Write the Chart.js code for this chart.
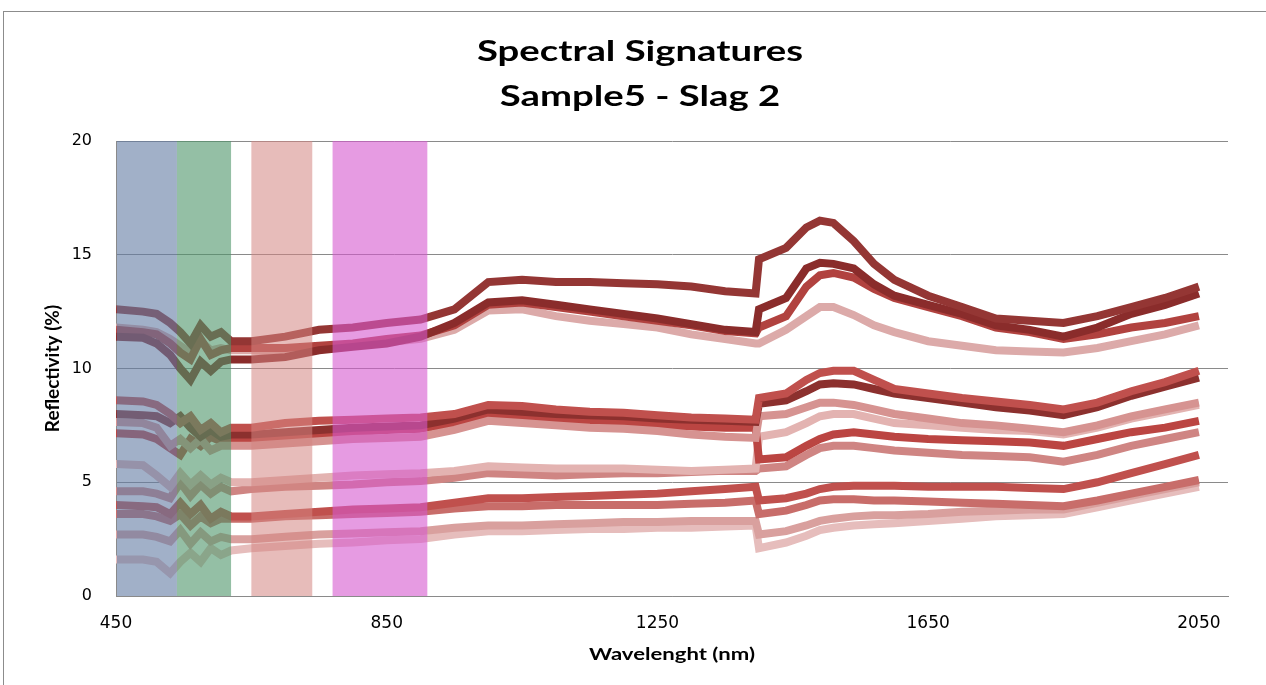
<!DOCTYPE html>
<html>
<head>
<meta charset="utf-8">
<title>Spectral Signatures</title>
<script src="https://cdn.jsdelivr.net/npm/chart.js@4.4.1/dist/chart.umd.min.js"></script>
<style>
  html, body { margin: 0; padding: 0; background: #fff; }
  #wrap { width: 1266px; height: 685px; }
</style>
</head>
<body>
<div id="wrap"><canvas id="chart" width="1266" height="685"></canvas></div>
<script>
// Spectral signatures of Sample5 - Slag 2 (reflectivity in %, wavelength in nm)

const titleLines = ['Spectral Signatures', 'Sample5 - Slag 2'];
const xTitle = 'Wavelenght (nm)';
const yTitle = 'Reflectivity (%)';

const wavelengths = [450, 490, 510, 530, 545, 560, 575, 590, 605, 620,
    650, 700, 750, 800, 850, 900, 950, 1000, 1050, 1100,
    1150, 1200, 1250, 1300, 1350, 1395, 1400, 1440, 1470, 1490,
    1510, 1540, 1570, 1600, 1650, 1700, 1750, 1800, 1850, 1900,
    1950, 2000, 2050];

const xTicks = [450, 850, 1250, 1650, 2050];
const yTicks = [0, 5, 10, 15, 20];

// visible colour bands (nm)
const bandStart = [450, 540, 650, 770];
const bandEnd = [540, 620, 740, 910];
const bandColors = ['rgba(98,124,163,0.6)', 'rgba(77,148,105,0.6)', 'rgba(212,133,130,0.55)', 'rgba(213,88,207,0.6)'];

const spot01 = [12.6, 12.5, 12.4, 12.0, 11.6, 11.1, 11.9, 11.4, 11.6, 11.2,
    11.2, 11.4, 11.7, 11.8, 12.0, 12.15, 12.6, 13.8, 13.9, 13.8,
    13.8, 13.75, 13.7, 13.6, 13.4, 13.3, 14.8, 15.3, 16.2, 16.5,
    16.4, 15.6, 14.6, 13.9, 13.2, 12.7, 12.2, 12.1, 12.0, 12.3,
    12.7, 13.1, 13.6];
const spot02 = [11.4, 11.35, 11.1, 10.6, 10.0, 9.5, 10.3, 9.9, 10.3, 10.4,
    10.4, 10.5, 10.8, 10.95, 11.1, 11.4, 12.0, 12.9, 13.0, 12.8,
    12.6, 12.4, 12.2, 11.95, 11.7, 11.6, 12.6, 13.1, 14.4, 14.65,
    14.6, 14.4, 13.7, 13.2, 12.8, 12.4, 11.9, 11.7, 11.4, 11.8,
    12.4, 12.8, 13.3];
const spot03 = [11.7, 11.6, 11.5, 11.1, 10.7, 10.4, 11.3, 10.6, 10.8, 10.9,
    10.9, 10.9, 11.0, 11.1, 11.3, 11.45, 11.9, 12.8, 12.9, 12.7,
    12.5, 12.3, 12.1, 11.9, 11.65, 11.55, 11.8, 12.3, 13.6, 14.1,
    14.2, 14.0, 13.5, 13.1, 12.7, 12.3, 11.8, 11.6, 11.3, 11.5,
    11.8, 12.0, 12.3];
const spot04 = [11.8, 11.7, 11.6, 11.3, 11.0, 10.7, 11.2, 10.8, 10.9, 10.8,
    10.8, 10.7, 10.9, 11.0, 11.15, 11.3, 11.7, 12.55, 12.6, 12.3,
    12.1, 11.95, 11.8, 11.5, 11.3, 11.1, 11.1, 11.7, 12.3, 12.7,
    12.7, 12.35, 11.9, 11.6, 11.2, 11.0, 10.8, 10.75, 10.7, 10.9,
    11.2, 11.5, 11.9];
const spot05 = [8.6, 8.55, 8.4, 8.0, 7.6, 7.9, 7.3, 7.6, 7.2, 7.4,
    7.4, 7.6, 7.7, 7.75, 7.8, 7.85, 8.0, 8.4, 8.35, 8.2,
    8.1, 8.05, 7.95, 7.85, 7.8, 7.75, 8.7, 8.9, 9.5, 9.8,
    9.9, 9.9, 9.5, 9.1, 8.9, 8.7, 8.55, 8.4, 8.2, 8.5,
    9.0, 9.4, 9.9];
const spot06 = [8.0, 7.95, 7.9, 7.6, 7.9, 7.4, 7.0, 7.3, 7.0, 7.1,
    7.1, 7.2, 7.3, 7.4, 7.45, 7.5, 7.8, 8.2, 8.1, 8.0,
    7.95, 7.9, 7.8, 7.75, 7.7, 7.65, 8.45, 8.6, 9.0, 9.3,
    9.35, 9.3, 9.1, 8.9, 8.7, 8.5, 8.3, 8.15, 7.95, 8.3,
    8.8, 9.2, 9.6];
const spot07 = [7.65, 7.6, 7.4, 6.6, 6.9, 6.5, 6.9, 6.4, 6.6, 6.6,
    6.6, 6.7, 6.8, 6.9, 6.95, 7.0, 7.3, 7.7, 7.6, 7.5,
    7.4, 7.35, 7.25, 7.1, 7.0, 6.95, 7.9, 8.0, 8.3, 8.5,
    8.5, 8.4, 8.2, 8.0, 7.8, 7.6, 7.5, 7.35, 7.2, 7.5,
    7.9, 8.2, 8.5];
const spot08 = [7.15, 7.1, 6.9, 6.5, 6.2, 6.9, 6.6, 7.0, 6.8, 6.9,
    6.9, 7.0, 7.1, 7.2, 7.3, 7.35, 7.6, 8.0, 7.9, 7.8,
    7.7, 7.6, 7.5, 7.45, 7.4, 7.4, 6.0, 6.1, 6.6, 6.9,
    7.1, 7.2, 7.1, 7.0, 6.9, 6.85, 6.8, 6.75, 6.6, 6.9,
    7.2, 7.4, 7.7];
const spot09 = [5.8, 5.75, 5.3, 4.8, 5.4, 4.9, 5.3, 4.9, 5.2, 5.0,
    5.0, 5.1, 5.2, 5.3, 5.35, 5.4, 5.5, 5.7, 5.65, 5.6,
    5.6, 5.6, 5.55, 5.5, 5.55, 5.6, 7.0, 7.2, 7.6, 7.9,
    8.0, 8.0, 7.8, 7.6, 7.5, 7.4, 7.3, 7.25, 7.1, 7.4,
    7.8, 8.1, 8.4];
const spot10 = [4.6, 4.6, 4.5, 4.3, 5.0, 4.4, 4.9, 4.5, 4.8, 4.6,
    4.7, 4.8, 4.85, 4.9, 5.0, 5.05, 5.2, 5.4, 5.35, 5.3,
    5.35, 5.4, 5.4, 5.45, 5.5, 5.5, 5.6, 5.7, 6.2, 6.5,
    6.6, 6.6, 6.5, 6.4, 6.3, 6.2, 6.15, 6.1, 5.9, 6.2,
    6.6, 6.9, 7.2];
const spot11 = [4.0, 3.95, 3.9, 3.6, 4.1, 3.6, 4.0, 3.4, 3.7, 3.5,
    3.5, 3.6, 3.7, 3.8, 3.85, 3.9, 4.1, 4.3, 4.3, 4.35,
    4.4, 4.45, 4.5, 4.6, 4.7, 4.8, 4.2, 4.3, 4.5, 4.7,
    4.8, 4.85, 4.85, 4.85, 4.8, 4.8, 4.8, 4.75, 4.7, 5.0,
    5.4, 5.8, 6.2];
const spot12 = [3.6, 3.6, 3.5, 3.3, 3.6, 3.1, 3.5, 3.2, 3.4, 3.4,
    3.4, 3.5, 3.55, 3.6, 3.65, 3.7, 3.85, 3.95, 3.95, 4.0,
    4.0, 4.0, 4.0, 4.05, 4.1, 4.2, 3.6, 3.75, 4.0, 4.2,
    4.25, 4.25, 4.2, 4.2, 4.15, 4.1, 4.05, 4.0, 3.95, 4.2,
    4.5, 4.8, 5.1];
const spot13 = [2.7, 2.7, 2.6, 2.4, 2.9, 2.3, 2.8, 2.4, 2.6, 2.5,
    2.5, 2.6, 2.7, 2.75, 2.8, 2.85, 3.0, 3.1, 3.1, 3.15,
    3.2, 3.25, 3.25, 3.3, 3.3, 3.3, 2.7, 2.85, 3.1, 3.3,
    3.4, 3.5, 3.55, 3.55, 3.6, 3.7, 3.75, 3.8, 3.8, 4.1,
    4.4, 4.7, 5.0];
const spot14 = [1.6, 1.6, 1.5, 1.0, 1.5, 1.9, 1.5, 2.1, 1.8, 2.0,
    2.1, 2.2, 2.3, 2.35, 2.45, 2.5, 2.7, 2.85, 2.85, 2.9,
    2.95, 2.95, 3.0, 3.0, 3.05, 3.1, 2.1, 2.35, 2.65, 2.9,
    3.0, 3.1, 3.15, 3.2, 3.3, 3.4, 3.5, 3.55, 3.6, 3.9,
    4.2, 4.5, 4.8];

const allSpots = [spot01, spot02, spot03, spot04, spot05, spot06, spot07,
    spot08, spot09, spot10, spot11, spot12, spot13, spot14];
const spotColors = ['#943634', '#8a2c2b', '#b1423f', '#dcaaa9', '#c0504d', '#8c302e', '#d69391',
    '#bb4542', '#e3b3b1', '#cf8583', '#c0504d', '#c86d6a', '#d9a09e', '#e6bdbc'];

const datasets = allSpots.map((values, i) => ({
    label: 'Spot ' + (i + 1),
    data: values.map((v, j) => ({ x: wavelengths[j], y: v })),
    borderColor: spotColors[i],
    backgroundColor: spotColors[i],
    borderWidth: 8,
    pointRadius: 0,
    tension: 0,
    fill: false
}));

// white page + grey chart frame
const framePlugin = {
    id: 'frame',
    beforeDraw(chart) {
        const ctx = chart.ctx;
        ctx.save();
        ctx.fillStyle = '#fff';
        ctx.fillRect(0, 0, chart.width, chart.height);
        ctx.strokeStyle = '#8c8c8c';
        ctx.lineWidth = 1;
        ctx.strokeRect(3.5, 11.5, chart.width + 20, chart.height + 20);
        ctx.restore();
    }
};

// translucent colour bands laid over the curves
const bandPlugin = {
    id: 'bands',
    afterDatasetsDraw(chart) {
        const ctx = chart.ctx;
        const xs = chart.scales.x, ys = chart.scales.y;
        const top = ys.getPixelForValue(20), bottom = ys.getPixelForValue(0);
        ctx.save();
        bandStart.forEach((s, i) => {
            const x1 = Math.max(xs.getPixelForValue(s), chart.chartArea.left + 1);
            const x2 = xs.getPixelForValue(bandEnd[i]);
            ctx.fillStyle = bandColors[i];
            ctx.fillRect(x1, top, x2 - x1, bottom - top);
        });
        ctx.restore();
    }
};

// titles are a little stretched sideways in the original, so draw them by hand
function wideText(ctx, text, x, y, font, stretch, angle) {
    ctx.save();
    ctx.translate(x, y);
    ctx.scale(stretch, 1);
    if (angle) ctx.rotate(angle);
    ctx.font = font;
    ctx.fillStyle = '#000';
    ctx.textAlign = 'center';
    ctx.textBaseline = 'middle';
    ctx.fillText(text, 0, 0);
    ctx.restore();
}

const titlePlugin = {
    id: 'titles',
    afterDraw(chart) {
        const ctx = chart.ctx;
        const area = chart.chartArea;
        wideText(ctx, titleLines[0], 640, 52, 'bold 29px Lato', 1.32);
        wideText(ctx, titleLines[1], 640, 97, 'bold 29px Lato', 1.32);
        wideText(ctx, xTitle, (area.left + area.right) / 2, 655, 'bold 17px Lato', 1.3);
        wideText(ctx, yTitle, 53, (area.top + area.bottom) / 2, 'bold 19px Lato', 1, -Math.PI / 2);
    }
};

new Chart(document.getElementById('chart').getContext('2d'), {
    type: 'line',
    data: { datasets: datasets },
    plugins: [framePlugin, bandPlugin, titlePlugin],
    options: {
        responsive: false,
        animation: false,
        layout: { padding: { left: 40, right: 38, top: 141, bottom: 15 } },
        plugins: {
            legend: { display: false },
            tooltip: { enabled: false }
        },
        scales: {
            x: {
                type: 'linear',
                min: 450,
                max: 2093,
                afterBuildTicks: s => { s.ticks = xTicks.map(v => ({ value: v })); },
                afterFit: s => { s.height = 74; },
                grid: { display: false, drawTicks: false },
                border: { display: true, color: '#8a8a8a', width: 1 },
                ticks: {
                    font: { family: 'DejaVu Sans', size: 17 }, color: '#000', padding: 17, maxRotation: 0,
                    callback: v => String(v)
                }
            },
            y: {
                min: 0,
                max: 20,
                afterBuildTicks: s => { s.ticks = yTicks.map(v => ({ value: v })); },
                afterFit: s => { s.width = 76; },
                grid: { color: '#8a8a8a', lineWidth: 1, drawTicks: false },
                border: { display: true, color: '#8a8a8a', width: 1 },
                ticks: {
                    font: { family: 'DejaVu Sans', size: 16 }, color: '#000', padding: 24,
                    callback: v => String(v)
                }
            }
        }
    }
});
</script>
</body>
</html>
